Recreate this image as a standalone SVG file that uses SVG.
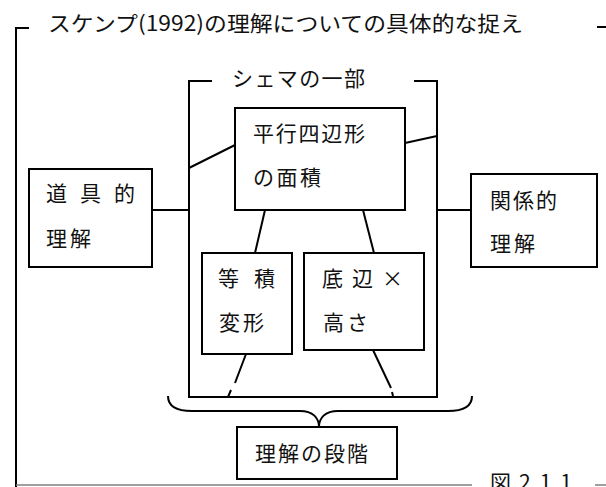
<svg xmlns="http://www.w3.org/2000/svg" width="606" height="487" viewBox="0 0 606 487">
<style>
text{font-family:"Noto Sans CJK JP","Noto Sans CJK SC",sans-serif;font-size:21px;fill:#111;}
.box{fill:#fff;stroke:#000;stroke-width:2;}
.ln{fill:none;stroke:#000;stroke-width:2;}
.gray{fill:none;stroke:#808080;stroke-width:1.5;}
</style>
<rect width="606" height="487" fill="#fff"/>
<g id="frame">
<path class="ln" d="M29,28 H16 V487"/>
<path class="ln" d="M597,27 H606"/>
<path class="gray" d="M16,485 H472 M595,485 H606"/>
<text x="48" y="31" textLength="475" lengthAdjust="spacingAndGlyphs">スケンプ(1992)の理解についての具体的な捉え</text>
<text x="490" y="490" textLength="82" lengthAdjust="spacing">図 2.1.1</text>
</g>
<g id="schema">
<path class="ln" d="M212,81 H189 V397 H437 V81 H414"/>
<text x="232" y="86" textLength="133" lengthAdjust="spacing">シェマの一部</text>
</g>
<g id="connectors">
<path class="ln" d="M189,168 L235,145"/>
<path class="ln" d="M405,143 L437,136"/>
<path class="ln" d="M152,210 H189"/>
<path class="ln" d="M437,210 H471"/>
<path class="ln" d="M265,210 L255,253"/>
<path class="ln" d="M363,210 L374,253"/>
<path class="ln" d="M246,354 L235,383 M231,390 L228,397"/>
<path class="ln" d="M373,350 L391,388 M392,392 L393,396"/>
<path class="ln" d="M168,396 C168,405 175,411 192,411 H300 C313,411 319,418 319,427 C319,418 325,411 338,411 H448 C465,411 472,405 472,396"/>
</g>
<g id="n-heikou">
<rect class="box" x="235" y="108" width="170" height="102"/>
<text x="253" y="141" textLength="112" lengthAdjust="spacing">平行四辺形</text>
<text x="253" y="185" textLength="68" lengthAdjust="spacing">の面積</text>
</g>
<g id="n-dougu">
<rect class="box" x="29" y="169" width="123" height="98"/>
<text x="46" y="201" textLength="89" lengthAdjust="spacing">道 具 的</text>
<text x="46" y="246" textLength="45" lengthAdjust="spacing">理解</text>
</g>
<g id="n-kankei">
<rect class="box" x="471" y="174" width="126" height="93"/>
<text x="490" y="208" textLength="67" lengthAdjust="spacing">関係的</text>
<text x="490" y="251" textLength="45" lengthAdjust="spacing">理解</text>
</g>
<g id="n-touseki">
<rect class="box" x="202" y="253" width="90" height="101"/>
<text x="218" y="286" textLength="57" lengthAdjust="spacing">等 積</text>
<text x="219" y="330" textLength="45" lengthAdjust="spacing">変形</text>
</g>
<g id="n-teihen">
<rect class="box" x="304" y="253" width="120" height="97"/>
<text x="322" y="286" textLength="81" lengthAdjust="spacing">底 辺 ×</text>
<text x="323" y="330" textLength="45" lengthAdjust="spacing">高さ</text>
</g>
<g id="n-dankai">
<rect class="box" x="237" y="427" width="160" height="52"/>
<text x="255" y="461" textLength="113" lengthAdjust="spacing">理解の段階</text>
</g>
</svg>
